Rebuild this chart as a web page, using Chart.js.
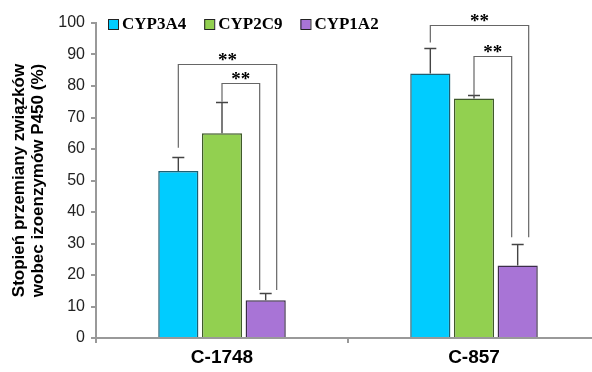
<!DOCTYPE html>
<html>
<head>
<meta charset="utf-8">
<script src="https://cdn.jsdelivr.net/npm/chart.js@4.4.1/dist/chart.umd.min.js"></script>
<style>
  html, body { margin: 0; padding: 0; background: #fff; overflow: hidden; }
  #wrap { width: 600px; height: 372px; }
</style>
</head>
<body>
<div id="wrap"><canvas id="myChart"></canvas></div>
<script>
// data
const compounds = ['C-1748', 'C-857'];
const enzymes = ['CYP3A4', 'CYP2C9', 'CYP1A2'];
const cyp3a4 = [53, 84];
const cyp2c9 = [65, 76];
const cyp1a2 = [12, 23];
const err3a4 = [4.5, 8];
const err2c9 = [10, 1];
const err1a2 = [2.2, 6.8];
const yTicks = [0, 10, 20, 30, 40, 50, 60, 70, 80, 90, 100];

// significance brackets: category, pair of series, bracket level, leg ends (data units)
const bracketCat = [0, 0, 1, 1];
const bracketFrom = [0, 1, 0, 1];
const bracketTo = [2, 2, 2, 2];
const bracketLevel = [87, 81, 99.3, 89.6];
const bracketFromEnd = [60.4, 75, 93.8, 77];
const bracketToEnd = [15.2, 15.2, 32, 32];
const bracketLabel = ['**', '**', '**', '**'];

const fills = ['#00CCFF', '#92D050', '#A874D6'];
const borders = ['#1d5f73', '#3f5a2a', '#3b2d4a'];
const errors = [err3a4, err2c9, err1a2];

// error bars + brackets + legend
const extrasPlugin = {
    id: 'extras',
    afterDatasetsDraw(chart) {
        const ctx = chart.ctx;
        const y = chart.scales.y;
        ctx.save();
        ctx.strokeStyle = '#444';
        ctx.lineWidth = 1.4;
        chart.data.datasets.forEach((ds, i) => {
            const meta = chart.getDatasetMeta(i);
            meta.data.forEach((bar, j) => {
                const top = Math.round(y.getPixelForValue(ds.data[j] + errors[i][j])) + 0.5;
                ctx.beginPath();
                ctx.moveTo(bar.x, bar.y);
                ctx.lineTo(bar.x, top);
                ctx.moveTo(bar.x - 6, top);
                ctx.lineTo(bar.x + 6, top);
                ctx.stroke();
            });
        });
        // brackets
        ctx.strokeStyle = '#666';
        ctx.lineWidth = 1.2;
        ctx.fillStyle = '#000';
        ctx.font = 'bold 19px "Liberation Serif"';
        ctx.textAlign = 'center';
        ctx.textBaseline = 'bottom';
        for (let k = 0; k < bracketCat.length; k++) {
            const c = bracketCat[k];
            const x1 = chart.getDatasetMeta(bracketFrom[k]).data[c].x;
            const x2 = chart.getDatasetMeta(bracketTo[k]).data[c].x + (bracketFrom[k] === 0 ? 11 : -6);
            const yl = Math.round(y.getPixelForValue(bracketLevel[k])) + 0.5;
            ctx.beginPath();
            ctx.moveTo(x1, y.getPixelForValue(bracketFromEnd[k]));
            ctx.lineTo(x1, yl);
            ctx.lineTo(x2, yl);
            ctx.lineTo(x2, y.getPixelForValue(bracketToEnd[k]));
            ctx.stroke();
            ctx.fillText(bracketLabel[k], (x1 + x2) / 2, yl + 6);
        }
        // legend inside the plot area
        ctx.font = 'bold 17px "Liberation Serif"';
        ctx.textAlign = 'left';
        ctx.textBaseline = 'middle';
        let lx = 108;
        const ly = 24;
        chart.data.datasets.forEach((ds, i) => {
            ctx.fillStyle = fills[i];
            ctx.fillRect(lx, ly - 5, 10, 10);
            ctx.strokeStyle = '#222';
            ctx.lineWidth = 1;
            ctx.strokeRect(lx + 0.5, ly - 4.5, 10, 10);
            ctx.fillStyle = '#000';
            ctx.fillText(ds.label, lx + 14, ly + 1);
            lx += 14 + ctx.measureText(ds.label).width + 18;
        });
        ctx.restore();
    }
};

const ctx = document.getElementById('myChart');
const myChart = new Chart(ctx, {
    type: 'bar',
    data: {
        labels: compounds,
        datasets: [cyp3a4, cyp2c9, cyp1a2].map((vals, i) => ({
            label: enzymes[i],
            data: vals,
            backgroundColor: fills[i],
            borderColor: borders[i],
            borderWidth: 1.5,
            borderSkipped: 'bottom',
            categoryPercentage: 0.52,
            barPercentage: 0.92
        }))
    },
    options: {
        responsive: true,
        maintainAspectRatio: false,
        animation: false,
        layout: { padding: { top: 23, right: 0, left: 4, bottom: 0 } },
        plugins: {
            legend: { display: false },
            tooltip: { enabled: false }
        },
        scales: {
            y: {
                min: 0,
                max: 100,
                afterFit(scale) { scale.width = 92; },
                afterBuildTicks(scale) { scale.ticks = yTicks.map(v => ({ value: v })); },
                ticks: {
                    color: '#222',
                    font: { family: 'Liberation Sans', size: 16 },
                    padding: 6
                },
                grid: { drawOnChartArea: false, color: '#999', tickLength: 5, lineWidth: 2 },
                border: { color: '#999', width: 2 },
                title: {
                    display: true,
                    text: ['Stopień przemiany związków', 'wobec izoenzymów P450 (%)'],
                    color: '#000',
                    font: { family: 'Liberation Sans', size: 17, weight: 'bold', lineHeight: 1.1 },
                    padding: { top: 6, bottom: 6 }
                }
            },
            x: {
                afterFit(scale) { scale.height = 34; },
                ticks: {
                    color: '#000',
                    font: { family: 'Liberation Sans', size: 19, weight: 'bold' },
                    padding: 3
                },
                grid: { drawOnChartArea: false, color: '#999', tickLength: 5, lineWidth: 2 },
                border: { color: '#999', width: 2 }
            }
        }
    },
    plugins: [extrasPlugin]
});
</script>
</body>
</html>
